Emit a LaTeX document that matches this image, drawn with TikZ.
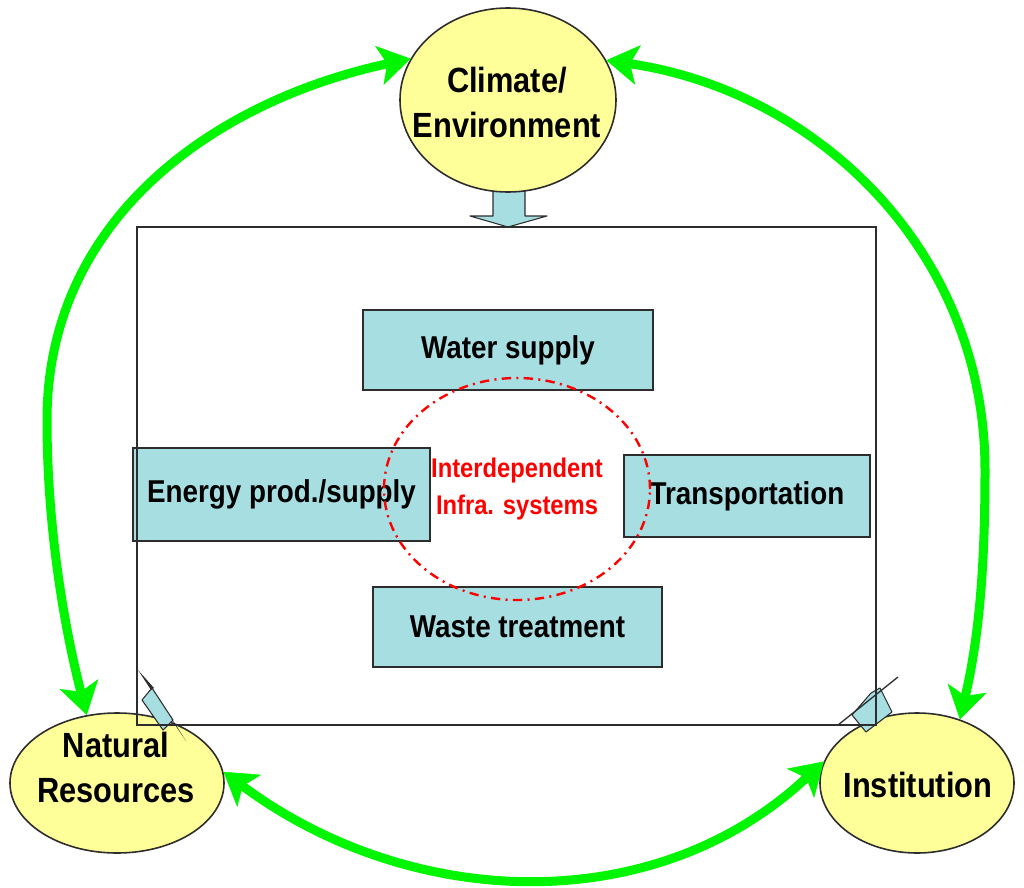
\documentclass[tikz,border=0pt]{standalone}
\usepackage{fontspec}
\newfontfamily\diagfont[FakeStretch=0.88]{Liberation Sans}
\usetikzlibrary{arrows.meta,shapes.geometric}

\definecolor{ellfill}{RGB}{255,255,153}
\definecolor{boxfill}{RGB}{166,222,226}
\definecolor{arcgreen}{RGB}{0,245,0}
\definecolor{edgegray}{RGB}{45,45,45}

\tikzset{
  ellnode/.style={ellipse, draw=edgegray, line width=1.2pt, fill=ellfill, inner sep=0pt},
  elltext/.style={inner sep=0pt, align=center, font=\diagfont\bfseries\fontsize{26.25}{33.75}\selectfont},
  sysbox/.style={rectangle, draw=edgegray, line width=0.9pt, fill=boxfill, inner sep=0pt,
    font=\diagfont\bfseries\fontsize{23.7}{28}\selectfont},
  blockarr/.style={draw=edgegray, fill=boxfill, line width=0.8pt, line join=round},
  greenarc/.style={draw=arcgreen, line width=6.75pt, >={Stealth[length=24pt,width=30pt,inset=6pt,line width=0.4pt]}, <->},
  interdash/.style={ellipse, draw=red, line width=1.8pt, dash pattern=on 7pt off 4pt on 1.5pt off 4pt,
    inner sep=0pt, align=center, text=red, font=\diagfont\bfseries\fontsize{20.25}{27.75}\selectfont}
}

\begin{document}
\begin{tikzpicture}[x=0.75pt,y=0.75pt,yscale=-1,xscale=1]
\useasboundingbox (0,0) rectangle (1024,888);

%Down Arrow below climate
\draw[blockarr] (493,180) -- (525,180) -- (525,216) -- (547,216) -- (508,227) -- (470,216) -- (493,216) -- cycle;

%Shape: Ellipse (climate)
\node[ellnode, minimum width=162pt, minimum height=138pt] (clim) at (508,100) {};
\node[elltext] (climlbl) at (507,102) {Climate/\\Environment};
%Shape: Ellipse (natural resources)
\node[ellnode, minimum width=160.5pt, minimum height=105pt] (nat) at (117,783) {};
\node[elltext] (natlbl) at (116,767) {Natural\\Resources};
%Shape: Ellipse (institution)
\node[ellnode, minimum width=145.5pt, minimum height=105pt] (inst) at (917,783) {};
\node[elltext] (instlbl) at (918,785) {Institution};

%Small arrow at natural resources
\draw[blockarr] (142,700) -- (152,688) -- (173,720) -- (163,730) -- cycle;
\fill[edgegray] (138,670) -- (154,688) -- (151,690) -- cycle;
\fill[edgegray] (171,719) -- (186,741) -- (174,722) -- cycle;
%Small arrow at institution
\draw[blockarr] (852,715) -- (871,693) -- (880,688) -- (892,712) -- (866,732) -- cycle;
\draw[edgegray, line width=1pt] (838,725) -- (898,677);

%Boxes
\node[sysbox, minimum width=217.5pt, minimum height=60pt] (water) at (508,350) {Water supply};
\node[sysbox, minimum width=222.75pt, minimum height=69.75pt] (energy) at (281.5,494.5) {Energy prod./supply};
\node[sysbox, minimum width=184.5pt, minimum height=61.5pt] (trans) at (747,496) {Transportation};
\node[sysbox, minimum width=216.75pt, minimum height=60pt] (waste) at (517.5,627) {Waste treatment};

%Frame
\draw[edgegray, line width=0.9pt] (137,227) rectangle (876,725);

%Dash-dot ellipse
\node[interdash, minimum width=199.5pt, minimum height=166.5pt] (infra) at (517,489) {Interdependent\\Infra. systems};

%Green arcs
\draw[greenarc] (nat.114) .. controls (62,618) and (47,520) .. (47,420) .. controls (47,220) and (212,102) .. (clim.157);
\draw[greenarc] (clim.22) .. controls (816,91) and (985,250) .. (985,470) .. controls (985,560) and (980,633) .. (inst.56);
\draw[greenarc] (nat.6) .. controls (410,910) and (654,920) .. (inst.167);

\end{tikzpicture}
\end{document}
